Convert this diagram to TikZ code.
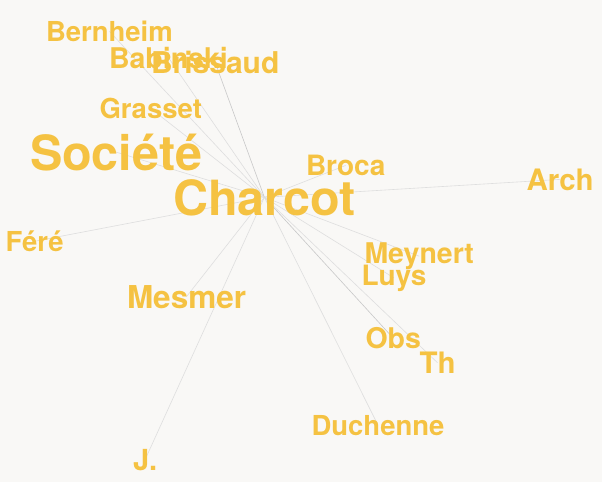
\documentclass[tikz,border=0pt]{standalone}
\usepackage{fontspec}
\setmainfont{TeX Gyre Heros}
\usetikzlibrary{backgrounds}
\definecolor{bgc}{RGB}{249,248,246}
\definecolor{wordc}{RGB}{245,194,66}
\definecolor{linkc}{RGB}{222,222,222}
\definecolor{linkd}{RGB}{200,200,200}
\tikzset{
  word/.style={inner sep=0pt, outer sep=0pt, anchor=base west, text=wordc, font=\bfseries},
  link/.style={draw=linkc, line width=0.6pt},
  linkdark/.style={draw=linkd, line width=0.6pt}
}
\newcommand{\fsz}[1]{\fontsize{#1}{#1}\selectfont}
\begin{document}
\begin{tikzpicture}[x=1pt,y=-1pt]
\useasboundingbox (0,0) rectangle (602,482);
\begin{scope}[on background layer]
\fill[bgc] (0,0) rectangle (602,482);
\end{scope}
\node[word] (charcot) at (173,215) {\fsz{48.5}Charcot};
\node[word] (societe) at (30,170) {\fsz{48.5}Société};
\node[word] (bernheim) at (46,41.5) {\fsz{27.5}Bernheim};
\node[word] (babinski) at (109,68) {\fsz{28.5}Babinski};
\node[word] (brissaud) at (151,73.5) {\fsz{30}Brissaud};
\node[word] (grasset) at (99.5,118.5) {\fsz{27.5}Grasset};
\node[word] (broca) at (306,175.5) {\fsz{28}Broca};
\node[word] (arch) at (526.5,190) {\fsz{29.5}Arch};
\node[word] (fere) at (5.5,251.5) {\fsz{27.5}Féré};
\node[word] (meynert) at (364.5,263.5) {\fsz{28.5}Meynert};
\node[word] (luys) at (361.5,285) {\fsz{28}Luys};
\node[word] (mesmer) at (127,308) {\fsz{31.5}Mesmer};
\node[word] (obs) at (365.5,348.5) {\fsz{28.5}Obs};
\node[word] (th) at (419.5,373.5) {\fsz{29.5}Th};
\node[word] (duchenne) at (311.5,435) {\fsz{27.5}Duchenne};
\node[word] (j) at (133,470) {\fsz{29}J.};
\begin{scope}[on background layer]
\draw[link] (charcot.center) -- (bernheim.center);
\draw[link] (charcot.center) -- (babinski.center);
\draw[linkdark] (charcot.center) -- (brissaud.center);
\draw[link] (charcot.center) -- (grasset.center);
\draw[link] (charcot.center) -- (societe.center);
\draw[link] (charcot.center) -- (broca.center);
\draw[link] (charcot.center) -- (arch.center);
\draw[link] (charcot.center) -- (fere.center);
\draw[link] (charcot.center) -- (meynert.center);
\draw[link] (charcot.center) -- (luys.center);
\draw[link] (charcot.center) -- (mesmer.center);
\draw[linkdark] (charcot.center) -- (obs.center);
\draw[link] (charcot.center) -- (th.center);
\draw[link] (charcot.center) -- (duchenne.center);
\draw[link] (charcot.center) -- (j.center);
\end{scope}
\end{tikzpicture}
\end{document}
